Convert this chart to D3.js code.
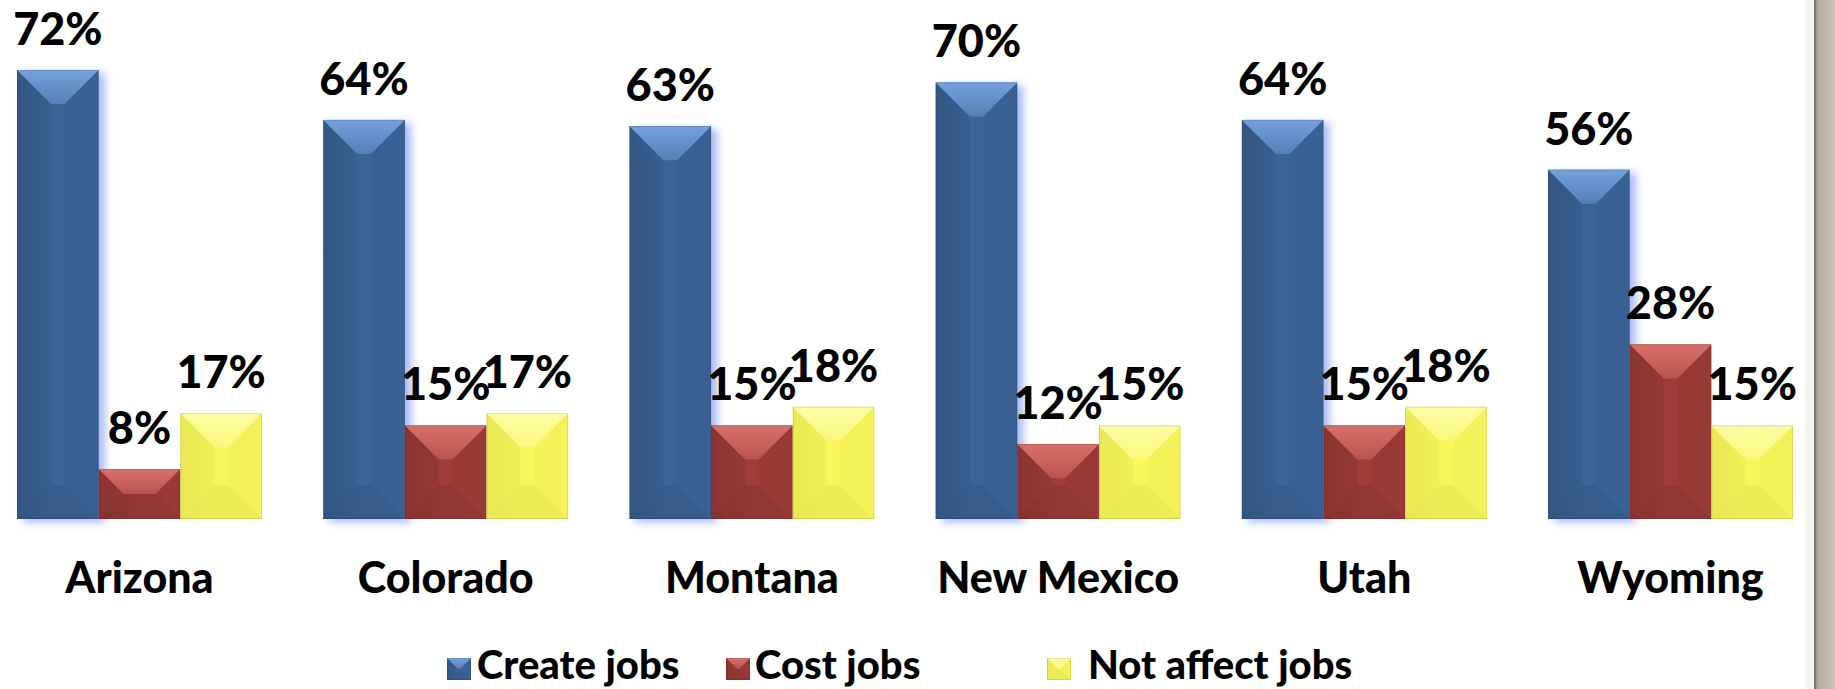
<!DOCTYPE html>
<html><head><meta charset="utf-8">
<script src="https://cdn.jsdelivr.net/npm/d3@7"></script>
<style>html,body{margin:0;padding:0;background:#fff;overflow:hidden}</style>
</head><body>
<svg id="chart" width="1835" height="689"></svg>
<script>
const states = ["Arizona","Colorado","Montana","New Mexico","Utah","Wyoming"];
const seriesNames = ["Create jobs","Cost jobs","Not affect jobs"];
const createJobs = [72,64,63,70,64,56];
const costJobs = [8,15,15,12,15,28];
const notAffectJobs = [17,17,18,15,18,15];
const seriesValues = [createJobs,costJobs,notAffectJobs];

const colors = ["#3c6497","#a03d3a","#f8f65a"];
const light = ["#74a2dc","#d96f6b","#fdfca6"];
const sideDark = [0.04,0.06,0.025];
const faceDark = [0.3,0.25,0.08];

const svg = d3.select("#chart");
const W = 1835, H = 689;
const FONT = "Lato, 'Open Sans', sans-serif";
const WEIGHT = 900;

svg.append("rect").attr("width",W).attr("height",H).attr("fill","#fff");

const defs = svg.append("defs");
const sg = defs.append("linearGradient").attr("id","stone").attr("x1",0).attr("x2",1).attr("y1",0).attr("y2",0);
sg.append("stop").attr("offset","0%").attr("stop-color","#8f887e");
sg.append("stop").attr("offset","20%").attr("stop-color","#b9b1a5");
sg.append("stop").attr("offset","100%").attr("stop-color","#c9c2b6");
svg.append("rect").attr("x",1815).attr("y",0).attr("width",20).attr("height",H).attr("fill","url(#stone)");
svg.append("rect").attr("x",1805).attr("y",0).attr("width",10).attr("height",H).attr("fill","#f6f4f1");
svg.append("rect").attr("x",1814).attr("y",0).attr("width",2).attr("height",H).attr("fill","#7d776f");

const glow = defs.append("filter").attr("id","glow").attr("x","-30%").attr("y","-10%").attr("width","160%").attr("height","120%");
glow.append("feGaussianBlur").attr("stdDeviation",4);

const x0 = d3.scaleBand().domain(states).range([17,1793]).paddingInner(0.2).paddingOuter(0);
const x1 = d3.scaleBand().domain(seriesNames).range([0,x0.bandwidth()]).padding(0);
const y = d3.scaleLinear().domain([0,80]).range([519,519-80*6.236]);

function bevelBar(g, x, yTop, w, h, si, bev){
  const b = Math.min(bev, w/2, h/2);
  const face = g.append("g");
  face.append("rect").attr("x",x).attr("y",yTop).attr("width",w).attr("height",h).attr("fill",`url(#face${si})`);
  const poly = (pts, fill, op) => face.append("polygon").attr("points",pts.map(p=>p.join(",")).join(" ")).attr("fill",fill).attr("opacity",op);
  poly([[x,yTop],[x+w,yTop],[x+w-b,yTop+b],[x+b,yTop+b]], `url(#top${si})`, 1);
  poly([[x,yTop],[x+b,yTop+b],[x+b,yTop+h-b],[x,yTop+h]], "#000", sideDark[si]);
  poly([[x+w,yTop],[x+w,yTop+h],[x+w-b,yTop+h-b],[x+w-b,yTop+b]], "#000", sideDark[si]*0.6);
  poly([[x,yTop+h],[x+b,yTop+h-b],[x+w-b,yTop+h-b],[x+w,yTop+h]], "#000", sideDark[si]*1.6);
  face.append("rect").attr("x",x+0.5).attr("y",yTop+0.5).attr("width",w-1).attr("height",h-1).attr("fill","none").attr("stroke","#000").attr("stroke-opacity",0.1);
}

seriesNames.forEach((s,i)=>{
  const fg = defs.append("linearGradient").attr("id","face"+i).attr("x1",0).attr("x2",1).attr("y1",0).attr("y2",0);
  fg.append("stop").attr("offset","0%").attr("stop-color",d3.color(colors[i]).darker(faceDark[i]));
  fg.append("stop").attr("offset","45%").attr("stop-color",colors[i]);
  fg.append("stop").attr("offset","100%").attr("stop-color",colors[i]);
  const tg = defs.append("linearGradient").attr("id","top"+i).attr("x1",0).attr("x2",0).attr("y1",0).attr("y2",1);
  tg.append("stop").attr("offset","0%").attr("stop-color",light[i]);
  tg.append("stop").attr("offset","100%").attr("stop-color",d3.interpolateRgb(light[i],colors[i])(0.55));
});

const groups = svg.selectAll("g.state").data(states).join("g").attr("class","state")
  .attr("transform",d=>`translate(${x0(d)},0)`);

groups.append("rect")
  .attr("x",()=>x1(seriesNames[0])+6)
  .attr("y",(d,j)=>y(createJobs[j])+3)
  .attr("width",x1.bandwidth())
  .attr("height",(d,j)=>y(0)-y(createJobs[j]))
  .attr("fill","#8fa6f2").attr("opacity",0.8).attr("filter","url(#glow)");

groups.each(function(st,j){
  const g = d3.select(this);
  seriesNames.forEach((s,i)=>{
    const v = seriesValues[i][j];
    bevelBar(g, x1(s), y(v), x1.bandwidth(), y(0)-y(v), i, 34);
  });
  seriesNames.forEach((s,i)=>{
    const v = seriesValues[i][j];
    g.append("text").attr("x",x1(s)+x1.bandwidth()/2).attr("y",y(v)-25)
      .attr("text-anchor","middle").attr("font-family",FONT).attr("font-weight",WEIGHT)
      .attr("font-size",45).attr("fill","#000").text(v+"%");
  });
});

svg.selectAll("text.cat").data(states).join("text").attr("class","cat")
  .attr("x",d=>x0(d)+x0.bandwidth()/2).attr("y",593)
  .attr("text-anchor","middle").attr("font-family",FONT).attr("font-weight",WEIGHT)
  .attr("font-size",43).attr("fill","#000").text(d=>d);

const legX = [447,726,1047];
const legTX = [477,755,1088];
seriesNames.forEach((s,i)=>{
  const g = svg.append("g");
  bevelBar(g, legX[i], 658, 24, 22, i, 11);
  g.append("text").attr("x",legTX[i]).attr("y",679).attr("font-family",FONT).attr("font-weight",WEIGHT)
    .attr("font-size",40).attr("fill","#000").text(s);
});
</script>
</body></html>
